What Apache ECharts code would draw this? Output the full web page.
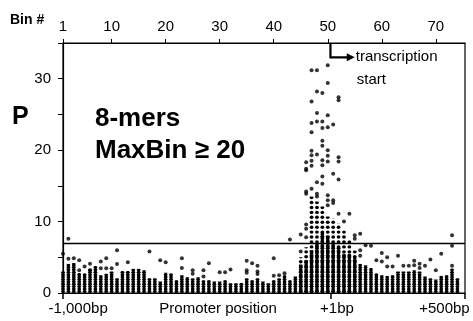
<!DOCTYPE html>
<html>
<head>
<meta charset="utf-8">
<script src="https://cdn.jsdelivr.net/npm/echarts@6/dist/echarts.min.js"></script>
<style>
  html, body { margin: 0; padding: 0; background: #fff; }
  #chart { width: 473px; height: 321px; }
</style>
</head>
<body>
<div id="chart"></div>
<script>
// solid (dense) column height per bin (bins 1..74)
const colTop = [
  3.0, 4.1, 4.2, 2.8, 2.75, 3.4, 3.8, 2.5, 2.7, 3.0,
  2.05, 3.1, 3.1, 3.4, 3.4, 3.2, 2.05, 2.05, 1.6, 2.85,
  2.75, 1.8, 2.5, 2.2, 2.05, 2.2, 1.8, 1.8, 1.6, 1.6,
  1.8, 1.35, 1.35, 1.45, 2.05, 1.8, 2.05, 1.6, 1.35, 1.8,
  2.05, 2.5, 1.8, 2.3, 4.0, 4.6, 6.0, 7.0, 8.5, 8.0,
  6.9, 6.5, 5.5, 5.5, 5.0, 4.1, 3.9, 3.5, 2.75, 2.5,
  2.4, 2.5, 3.0, 3.0, 3.0, 3.2, 3.0, 2.3, 2.05, 1.9,
  2.4, 2.5, 3.45, 2.05
]

// looser stacks of dots above the solid part, peak bins only: [bin, top P]
const sparseCols = [
  [45, 5.0], [46, 6.4], [47, 13.5], [48, 12.8], [49, 12.1], [50, 10.7],
  [51, 10.4], [52, 9.7], [53, 8.8], [54, 7.4], [55, 6.0]
]

// isolated dots: [bin, P]
const outliers = [
  [1, 5.5], [2, 7.6], [2, 4.8], [3, 4.85], [4, 4.6], [4, 3.2], [5, 3.7], [6, 4.1], [6, 3.2],
  [8, 4.4], [8, 3.45], [9, 4.85], [9, 3.45], [10, 3.45], [11, 6.0], [11, 4.05], [13, 4.3],
  [17, 5.8], [19, 4.6], [20, 4.3], [23, 4.85], [23, 3.5], [25, 3.2], [25, 2.7], [27, 3.2],
  [27, 2.3], [28, 4.15], [30, 2.9], [31, 2.9], [32, 3.3], [35, 4.5], [35, 3.2], [35, 2.85],
  [36, 4.15], [37, 3.8], [37, 3.0], [37, 2.65], [40, 4.85], [40, 2.4], [41, 2.5], [42, 2.75],
  [43, 7.5], [45, 8.2], [45, 5.8],
  [46, 18.3], [46, 17.4], [46, 17.2], [46, 14.2], [46, 13.9], [46, 9.6], [46, 9.0], [46, 7.8],
  [47, 31.2], [47, 26.8], [47, 23.8], [47, 22.5], [47, 19.9], [47, 19.3], [47, 18.5], [47, 17.8], [47, 14.6],
  [48, 31.2], [48, 28.2], [48, 25.2], [48, 24.0], [48, 19.4], [48, 15.5], [48, 13.9], [48, 13.5],
  [49, 28.0], [49, 24.0], [49, 23.1], [49, 21.3], [49, 20.6], [49, 18.6], [49, 17.9], [49, 16.3], [49, 15.3],
  [50, 31.9], [50, 29.4], [50, 24.9], [50, 23.2], [50, 20.0], [50, 19.2], [50, 18.4], [50, 13.7], [50, 13.0], [50, 12.3],
  [51, 23.6], [51, 16.7], [51, 13.0], [51, 12.6],
  [52, 27.4], [52, 27.0], [52, 19.0], [52, 18.4], [52, 15.9], [52, 11.1],
  [53, 10.0], [54, 11.1], [55, 8.1], [55, 7.6], [56, 8.3], [56, 6.0], [56, 5.2],
  [57, 6.7], [58, 6.6], [59, 4.6], [60, 5.6], [60, 4.4], [61, 5.0], [61, 3.7], [62, 3.7],
  [63, 5.2], [64, 3.8], [65, 3.8], [66, 4.5], [66, 3.9], [67, 4.1], [67, 3.5], [68, 3.8],
  [69, 4.7], [70, 3.2], [71, 5.5], [73, 8.1], [73, 6.6], [73, 3.8]
]

const binTicks = [1, 10, 20, 30, 40, 50, 60, 70]
const yLabels = [0, 10, 20, 30]
const posLabels = ['-1,000bp', 'Promoter position', '+1bp', '+500bp']
const posLabelAt = [3.8, 29.7, 51.7, 71.6]
const posTickAt = [1, 50.5, 75.4]
const threshold = 7
const tssBin = 50.5

const FONT = '"Liberation Sans", Arial, sans-serif'
const chart = echarts.init(document.getElementById('chart'))

const columns = colTop.map((v, i) => [i + 1, v])

const option = {
  animation: false,
  grid: {
    left: 63, right: 8, top: 43, bottom: 28,
    show: true, borderColor: '#000', borderWidth: 1.2
  },
  xAxis: [
    {
      type: 'value', position: 'bottom', min: 1, max: 75.4,
      axisLine: { show: true, lineStyle: { color: '#000', width: 1.2 } },
      axisTick: { show: true, length: 6, customValues: posTickAt, lineStyle: { color: '#000', width: 1.5 } },
      axisLabel: {
        customValues: posLabelAt, margin: 8, color: '#000', fontSize: 15, fontFamily: FONT,
        formatter: v => posLabels[posLabelAt.indexOf(v)] || ''
      },
      splitLine: { show: false }
    },
    {
      type: 'value', position: 'top', min: 1, max: 75.4,
      axisLine: { show: true, lineStyle: { color: '#000', width: 1.2 } },
      axisTick: { show: true, length: 4, customValues: binTicks, lineStyle: { color: '#000' } },
      axisLabel: { customValues: binTicks, margin: 9, color: '#000', fontSize: 15, fontFamily: FONT },
      splitLine: { show: false }
    }
  ],
  yAxis: {
    type: 'value', min: 0, max: 35, interval: 5,
    axisLine: { show: true, lineStyle: { color: '#000', width: 1.2 } },
    axisTick: { show: true, length: 5, lineStyle: { color: '#000' } },
    axisLabel: { customValues: yLabels, margin: 12, color: '#000', fontSize: 15, fontFamily: FONT },
    splitLine: { show: false }
  },
  series: [
    {
      type: 'pictorialBar',
      xAxisIndex: 0,
      data: sparseCols,
      symbol: 'circle',
      symbolRepeat: true,
      symbolSize: [3.8, 3.4],
      symbolMargin: 0.8,
      symbolClip: true,
      itemStyle: { color: '#000' },
      silent: true,
      z: 2
    },
    {
      type: 'pictorialBar',
      xAxisIndex: 0,
      data: columns,
      symbol: 'circle',
      symbolRepeat: true,
      symbolSize: [3.8, 3.2],
      symbolMargin: -0.4,
      symbolClip: true,
      itemStyle: { color: '#000' },
      silent: true,
      z: 3
    },
    {
      type: 'scatter',
      xAxisIndex: 0,
      data: outliers,
      symbol: 'circle',
      symbolSize: 4,
      itemStyle: { color: '#000' },
      silent: true,
      z: 4,
      markLine: {
        silent: true,
        symbol: 'none',
        label: { show: false },
        lineStyle: { color: '#000', width: 1.3, type: 'solid' },
        data: [{ yAxis: threshold }]
      }
    }
  ]
}

chart.setOption(option)

// annotations placed from data coordinates
const toPx = p => chart.convertToPixel({ xAxisIndex: 0, yAxisIndex: 0 }, p)
const a0 = toPx([tssBin, 35])
const a1 = toPx([tssBin, 33])
const a2 = toPx([55, 33])

chart.setOption({
  graphic: [
    { type: 'text', left: 10, top: 13, style: { text: 'Bin #', font: 'bold 14px ' + FONT, fill: '#000' } },
    { type: 'text', left: 12, top: 105, style: { text: 'P', font: 'bold 25px ' + FONT, fill: '#000' } },
    { type: 'text', left: 95, top: 106, style: { text: '8-mers', font: 'bold 26px ' + FONT, fill: '#000' } },
    { type: 'text', left: 95, top: 138, style: { text: 'MaxBin ≥ 20', font: 'bold 26px ' + FONT, fill: '#000' } },
    {
      type: 'polyline', silent: true,
      shape: { points: [a0, a1, [a2[0] - 6, a2[1]]] },
      style: { stroke: '#000', lineWidth: 2.2, fill: null }
    },
    {
      type: 'polygon', silent: true,
      shape: { points: [[a2[0] - 8, a2[1] - 4], [a2[0], a2[1]], [a2[0] - 8, a2[1] + 4]] },
      style: { fill: '#000' }
    },
    {
      type: 'text', x: a2[0] + 1, y: a2[1],
      style: { text: 'transcription', font: '15px ' + FONT, fill: '#000', verticalAlign: 'middle' }
    },
    {
      type: 'text', x: a2[0] + 2, y: a2[1] + 23,
      style: { text: 'start', font: '15px ' + FONT, fill: '#000', verticalAlign: 'middle' }
    }
  ]
})
</script>
</body>
</html>
